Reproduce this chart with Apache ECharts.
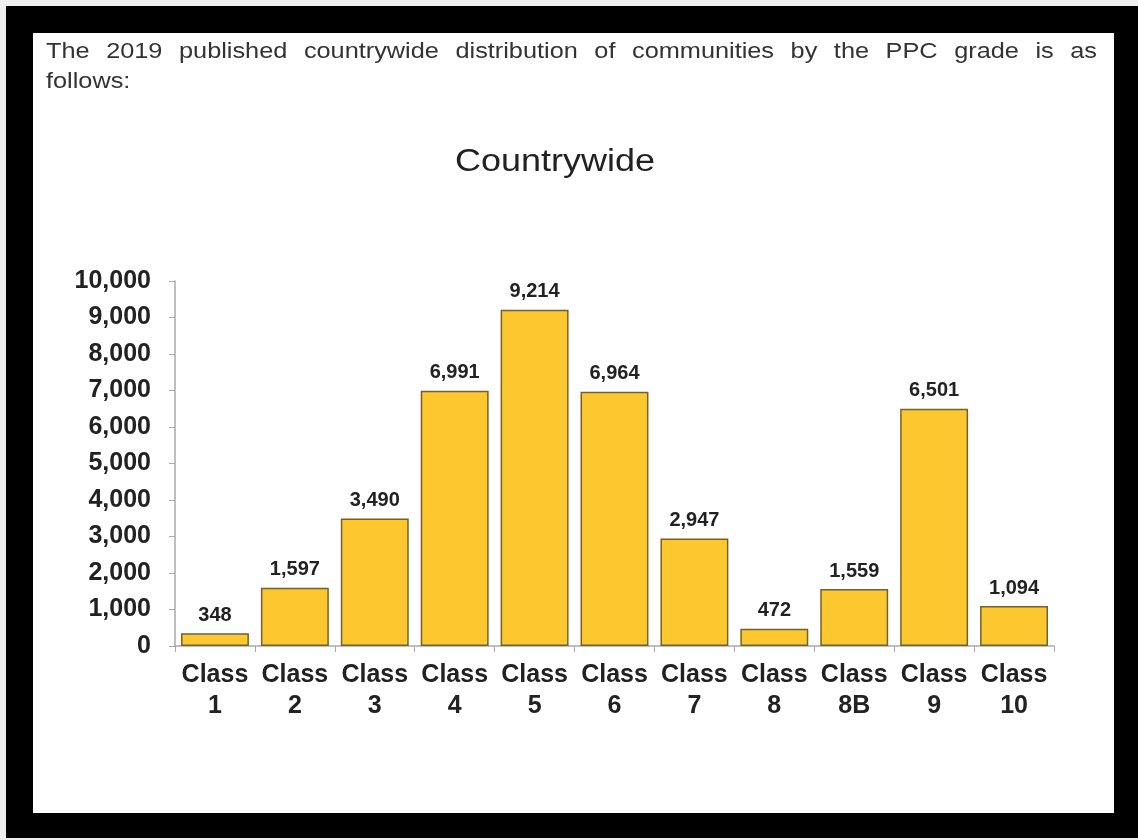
<!DOCTYPE html>
<html><head><meta charset="utf-8">
<script src="https://cdn.jsdelivr.net/npm/echarts@6/dist/echarts.min.js"></script>
<style>html,body{margin:0;padding:0;background:#eeeeee;}#c{width:1138px;height:840px;}</style>
</head><body><div id="c"></div>
<script>
const categories = ['Class\n1','Class\n2','Class\n3','Class\n4','Class\n5','Class\n6','Class\n7','Class\n8','Class\n8B','Class\n9','Class\n10'];
const counts = [348,1597,3490,6991,9214,6964,2947,472,1559,6501,1094];
const yTicks = [0,1000,2000,3000,4000,5000,6000,7000,8000,9000,10000];
const titleText = 'Countrywide';
const introLine1 = 'The 2019 published countrywide distribution of communities by the PPC grade is as';
const introLine2 = 'follows:';

const fmt = v => v.toLocaleString('en-US');
const FF = '"Liberation Sans", Arial, sans-serif';
const font = '22px ' + FF;
const SX = 1.15;

// justified first line: measure words and distribute
const cv = document.createElement('canvas').getContext('2d');
cv.font = font;
const words = introLine1.split(' ');
const left = 46, right = 1097;
const totalW = words.reduce((s,w)=>s+cv.measureText(w).width*SX,0);
const gap = (right-left-totalW)/(words.length-1);
const introEls = [];
let xx = left;
words.forEach(w=>{
  introEls.push({type:'text',x:xx,y:41,scaleX:SX,style:{text:w,font:font,fill:'#333',verticalAlign:'top',align:'left'}});
  xx += cv.measureText(w).width*SX + gap;
});
introEls.push({type:'text',x:left,y:71,scaleX:SX,style:{text:introLine2,font:font,fill:'#333',verticalAlign:'top',align:'left'}});

const chart = echarts.init(document.getElementById('c'));
chart.setOption({
  backgroundColor:'#eeeeee',
  animation:false,
  graphic:[
    {type:'rect',shape:{x:6,y:6,width:1132,height:832},style:{fill:'#000'},z:-10},
    {type:'rect',shape:{x:33,y:33,width:1081,height:780},style:{fill:'#fff'},z:-9},
    ...introEls,
    {type:'text',x:555,y:147,scaleX:1.16,style:{text:titleText,font:'31px '+FF,fill:'#222',align:'center',verticalAlign:'top'}}
  ],
  grid:{left:175,right:84,top:281,bottom:194,containLabel:false},
  xAxis:{type:'category',data:categories,
    axisLine:{lineStyle:{color:'#aaa',width:1.5}},
    axisTick:{show:true,length:6,lineStyle:{color:'#aaa'}},
    axisLabel:{interval:0,margin:14,fontFamily:FF,fontSize:25,fontWeight:'bold',color:'#222',lineHeight:31}},
  yAxis:{type:'value',min:0,max:10000,interval:1000,
    axisLine:{show:true,lineStyle:{color:'#aaa',width:1.5}},
    axisTick:{show:true,length:6,lineStyle:{color:'#aaa'}},
    splitLine:{show:false},
    axisLabel:{margin:24,formatter:v=>fmt(v),fontFamily:FF,fontSize:25,fontWeight:'bold',color:'#222'}},
  series:[{type:'bar',data:counts,barCategoryGap:'15%',
    itemStyle:{color:'#FDC82F',borderColor:'#6e6230',borderWidth:1.5},
    label:{show:true,position:'top',distance:8,formatter:p=>fmt(p.value),
      fontFamily:FF,fontSize:20,fontWeight:'bold',color:'#222'}}]
});
</script></body></html>
